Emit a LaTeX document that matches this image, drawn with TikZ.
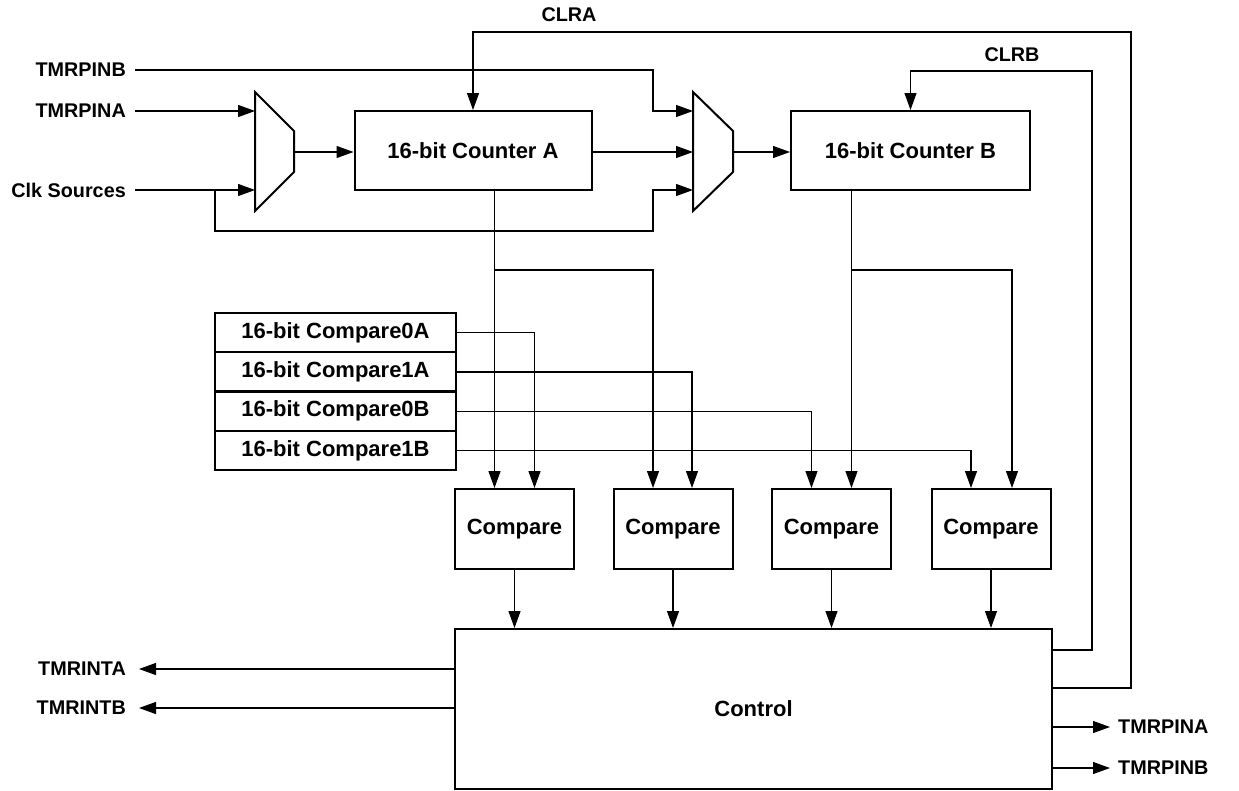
\documentclass[tikz,border=0pt]{standalone}
\usepackage{fontspec}
\setmainfont{Liberation Sans}
\usetikzlibrary{arrows.meta,calc}
\begin{document}
\begin{tikzpicture}[x=1pt,y=-1pt,
  conn/.style={line width=1.2pt,line join=miter},
  arr/.style={conn,-{Triangle[length=17pt,width=12pt]}},
  blk/.style={draw,line width=2pt,inner sep=0pt,font=\fontsize{22}{26}\selectfont\bfseries},
  reg/.style={blk,minimum width=241pt,minimum height=39.25pt},
  cmp/.style={blk,minimum width=119pt,minimum height=80pt},
  lbl/.style={inner sep=0pt,font=\fontsize{19.8}{23}\selectfont\bfseries},
  muxs/.style={draw,line width=2pt,line join=miter}]
\useasboundingbox (0,0) rectangle (1239,790);
% muxes
\draw[muxs] (255,92) -- (294,131) -- (294,172) -- (255,211) -- cycle;
\draw[muxs] (693,92) -- (733,131) -- (733,172) -- (693,211) -- cycle;
\coordinate (m1a) at (255,111);
\coordinate (m1b) at (255,190);
\coordinate (m1o) at (294,152);
\coordinate (m2a) at (693,111);
\coordinate (m2b) at (693,152);
\coordinate (m2c) at (693,190);
\coordinate (m2o) at (733,152);
% counters
\node[blk,minimum width=237pt,minimum height=79pt] (ca) at (473,150.5) {16-bit Counter A};
\node[blk,minimum width=239pt,minimum height=79pt] (cb) at (910.5,150.5) {16-bit Counter B};
% compare registers
\node[reg] (r0a) at (335.5,332.6) {16-bit Compare0A};
\node[reg] (r1a) at (335.5,371.9) {16-bit Compare1A};
\node[reg] (r0b) at (335.5,411.1) {16-bit Compare0B};
\node[reg] (r1b) at (335.5,450.4) {16-bit Compare1B};
% compare blocks
\node[cmp] (c1) at (514.5,529) {Compare};
\node[cmp] (c2) at (673,529) {Compare};
\node[cmp] (c3) at (831.5,529) {Compare};
\node[cmp] (c4) at (991,529) {Compare};
% control
\node[blk,minimum width=597pt,minimum height=160pt] (ctrl) at (753.5,709) {Control};
% input labels
\node[lbl,anchor=east] (tpb) at (126,70) {TMRPINB};
\node[lbl,anchor=east] (tpa) at (126,111) {TMRPINA};
\node[lbl,anchor=east] (clk) at (126,190) {Clk Sources};
\node[lbl] (clra) at (569,15) {CLRA};
\node[lbl] (clrb) at (1012,55) {CLRB};
\node[lbl,anchor=east] (tia) at (126,669) {TMRINTA};
\node[lbl,anchor=east] (tib) at (126,708) {TMRINTB};
\node[lbl,anchor=west] (opa) at (1118,727) {TMRPINA};
\node[lbl,anchor=west] (opb) at (1118,768) {TMRPINB};
% inputs
\draw[arr] ([xshift=9pt]tpa.east) -- (m1a);
\draw[arr] ([xshift=9pt]clk.east) -- (m1b);
\draw[arr] ([xshift=9pt]tpb.east) -- (653,70) |- (m2a);
\coordinate (clkbr) at (215,190);
\draw[arr] (clkbr) |- (653,231) |- (m2c);
\draw[arr] (m1o) -- (ca.west |- m1o);
\draw[arr] (ca.east |- m2b) -- (m2b);
\draw[arr] (m2o) -- (cb.west |- m2o);
% compare inputs
\coordinate (c1a) at ($(c1.north)+(-20,0)$);
\coordinate (c1b) at ($(c1.north)+(20,0)$);
\coordinate (c2a) at ($(c2.north)+(-20,0)$);
\coordinate (c2b) at ($(c2.north)+(19,0)$);
\coordinate (c3a) at ($(c3.north)+(-20,0)$);
\coordinate (c3b) at ($(c3.north)+(20,0)$);
\coordinate (c4a) at ($(c4.north)+(-20,0)$);
\coordinate (c4b) at ($(c4.north)+(21,0)$);
\draw[arr] (ca.south -| c1a) -- (c1a);
\coordinate (ja) at (c1a |- 0,270);
\draw[arr] (ja) -| (c2a);
\draw[arr] (cb.south -| c3b) -- (c3b);
\coordinate (jb) at (c3b |- 0,270);
\draw[arr] (jb) -| (c4b);
\draw[arr] (r0a.east) -| (c1b);
\draw[arr] (r1a.east) -| (c2b);
\draw[arr] (r0b.east) -| (c3a);
\draw[arr] (r1b.east) -| (c4a);
% compare outputs
\draw[arr] (c1.south) -- (c1.south |- ctrl.north);
\draw[arr] (c2.south) -- (c2.south |- ctrl.north);
\draw[arr] (c3.south) -- (c3.south |- ctrl.north);
\draw[arr] (c4.south) -- (c4.south |- ctrl.north);
% clears
\draw[arr] (ctrl.east |- 0,688) -| (1131,32) -| (ca.north);
\draw[arr] (ctrl.east |- 0,650) -| (1092,71) -| (cb.north);
% outputs
\draw[arr] (ctrl.west |- tia.east) -- ([xshift=13pt]tia.east);
\draw[arr] (ctrl.west |- tib.east) -- ([xshift=13pt]tib.east);
\draw[arr] (ctrl.east |- opa.west) -- ([xshift=-8pt]opa.west);
\draw[arr] (ctrl.east |- opb.west) -- ([xshift=-8pt]opb.west);
\end{tikzpicture}
\end{document}
